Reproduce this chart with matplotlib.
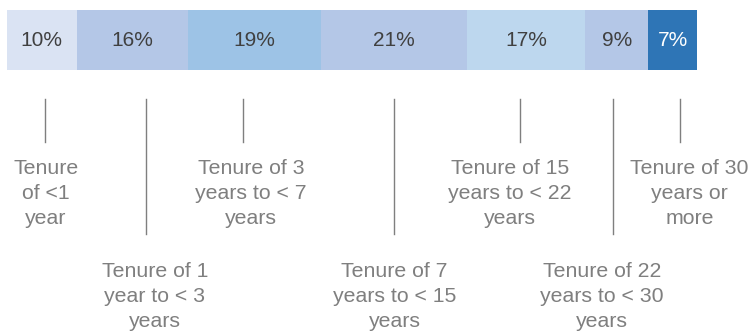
import matplotlib.pyplot as plt
import numpy as np

plt.rcParams['font.family'] = ['Liberation Sans', 'DejaVu Sans']

shares = [10, 16, 19, 21, 17, 9, 7]
labels = ['Tenure\nof <1\nyear',
          'Tenure of 1\nyear to < 3\nyears',
          'Tenure of 3\nyears to < 7\nyears',
          'Tenure of 7\nyears to < 15\nyears',
          'Tenure of 15\nyears to < 22\nyears',
          'Tenure of 22\nyears to < 30\nyears',
          'Tenure of 30\nyears or\nmore']
colors = ['#DAE3F3', '#B4C7E7', '#9DC3E6', '#B4C7E7', '#BDD7EE', '#B4C7E7', '#2E75B6']

# small nudges (in % units) so lines/labels sit like the original
line_dx = [0.4, 2.0, -1.7, 0.0, -0.9, -0.6, 1.1]
text_dx = [0.6, 3.2, -0.5, 0.1, -2.3, -2.1, 2.4]

fig = plt.figure(figsize=(7.52, 3.33), dpi=100)
ax = fig.add_axes([0, 0, 1, 1])
px = 690 / sum(shares)            # pixels per percent
ax.set_xlim(-7 / px, (752 - 7) / px)
ax.set_ylim(333, 0)
ax.axis('off')

left = np.concatenate([[0], np.cumsum(shares)[:-1]])
ax.barh(40, shares, left=left, height=60, color=colors, edgecolor='none')

for i, s in enumerate(shares):
    c = left[i] + s / 2
    tc = 'white' if i == len(shares) - 1 else '#404040'
    ax.text(c, 41, f'{s}%', ha='center', va='center', fontsize=15, color=tc)

    low = i % 2 == 1              # alternate short / long leader lines
    y1 = 234 if low else 142
    ax.plot([c + line_dx[i]] * 2, [99, y1], color='#7F7F7F', lw=1)
    ty = 262 if low else 159
    ax.text(c + text_dx[i], ty, labels[i], ha='center', va='top', fontsize=15.3,
            color='#7F7F7F', linespacing=1.4)

fig.savefig('out.png', dpi=100)
